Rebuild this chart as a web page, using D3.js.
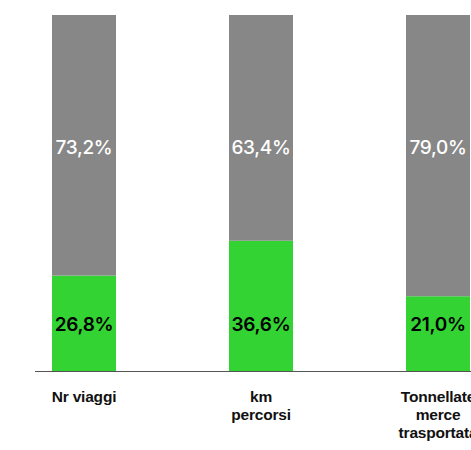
<!DOCTYPE html>
<html>
<head>
<meta charset="utf-8">
<script src="https://cdn.jsdelivr.net/npm/d3@7"></script>
<style>
  html, body { margin: 0; padding: 0; background: #fff; }
  svg { display: block; }
</style>
</head>
<body>
<svg id="chart" width="471" height="450"></svg>
<script>
// Quota verde vs resto, per indicatore
const categories = ["Nr viaggi", "km percorsi", "Tonnellate merce trasportata"];
const categoryLines = [["Nr viaggi"], ["km", "percorsi"], ["Tonnellate", "merce", "trasportata"]];
const greenShare = [26.8, 36.6, 21.0];
const greyShare = [73.2, 63.4, 79.0];

const fmt = v => v.toFixed(1).replace(".", ",") + "%";

const svg = d3.select("#chart");
const width = 471, height = 450;
const margin = { top: 15, bottom: 79, left: 35 };

const x = d3.scaleBand()
  .domain(categories)
  .range([-1.1, 523.1])
  .paddingInner(0.6384)
  .paddingOuter(0.3);

const y = d3.scaleLinear()
  .domain([0, 100])
  .range([height - margin.bottom, margin.top]);

const rows = categories.map((c, i) => ({
  cat: c,
  lines: categoryLines[i],
  green: greenShare[i],
  grey: greyShare[i]
}));

const stack = d3.stack().keys(["green", "grey"]);
const series = stack(rows);
const colors = { green: "#33d333", grey: "#878787" };
const textColors = { green: "#000", grey: "#fff" };
const textWeights = { green: 600, grey: 500 };
// Le etichette di valore stanno a quota fissa in ogni segmento
const labelLevel = { green: 11.2, grey: 61 };

const g = svg.append("g");

series.forEach(s => {
  g.selectAll(null)
    .data(s)
    .join("rect")
    .attr("x", d => x(d.data.cat))
    .attr("width", x.bandwidth())
    .attr("y", d => y(d[1]))
    .attr("height", d => y(d[0]) - y(d[1]))
    .attr("fill", colors[s.key]);

  g.selectAll(null)
    .data(s)
    .join("text")
    .attr("x", d => x(d.data.cat) + x.bandwidth() / 2)
    .attr("y", y(labelLevel[s.key]))
    .attr("text-anchor", "middle")
    .attr("font-family", "Inter, 'Noto Sans', sans-serif")
    .attr("font-size", 19)
    .attr("font-weight", textWeights[s.key])
    .attr("letter-spacing", -0.3)
    .attr("fill", textColors[s.key])
    .text(d => fmt(d.data[s.key]));
});

// Asse x: linea di base ed etichette su più righe
svg.append("line")
  .attr("x1", margin.left).attr("x2", width)
  .attr("y1", y(0) + 0.5).attr("y2", y(0) + 0.5)
  .attr("stroke", "#555").attr("stroke-width", 1.2);

const labels = svg.selectAll(null)
  .data(rows)
  .join("text")
  .attr("text-anchor", "middle")
  .attr("font-family", "'Liberation Sans', Arial, sans-serif")
  .attr("font-size", 15.5)
  .attr("font-weight", 700)
  .attr("letter-spacing", -0.2)
  .attr("fill", "#111");

labels.selectAll("tspan")
  .data(d => d.lines.map(l => ({ l, cx: x(d.cat) + x.bandwidth() / 2 })))
  .join("tspan")
  .attr("x", d => d.cx)
  .attr("y", (d, i) => y(0) + 31 + i * 18)
  .text(d => d.l);
</script>
</body>
</html>
